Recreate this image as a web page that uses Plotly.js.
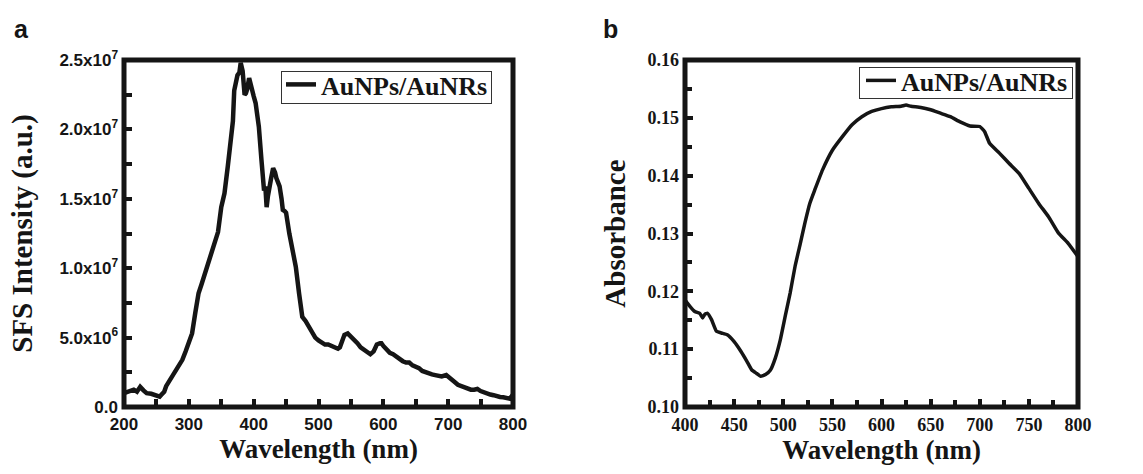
<!DOCTYPE html>
<html>
<head>
<meta charset="utf-8">
<script src="https://cdn.plot.ly/plotly-3.0.1.min.js"></script>
<style>
html,body{margin:0;padding:0;background:#fff;}
#wrap{position:relative;width:1143px;height:474px;}
#chart{width:1143px;height:474px;}
.lab{position:absolute;font-family:'Liberation Sans',Arial,sans-serif;font-weight:bold;font-size:25px;line-height:25px;color:#151515;}
.lbox{position:absolute;border:1px solid #333;box-sizing:border-box;pointer-events:none;}
</style>
</head>
<body>
<div id="wrap">
<div id="chart"></div>
<div class="lab" id="labA" style="left:14px;top:17px;"></div>
<div class="lab" id="labB" style="left:603px;top:17px;"></div>
<div class="lbox" style="left:281px;top:71px;width:211px;height:33px;"></div>
<div class="lbox" style="left:859px;top:67px;width:214px;height:32px;"></div>
</div>
<script>
// Panel a: SFS intensity
const sfsWavelength = [200,207,215,220,225,230,235,242,250,255,258,262,265,270,275,280,285,290,295,300,305,310,315,320,325,330,335,340,345,350,355,360,365,368,370,373,375,378,380,383,386,388,390,393,397,400,403,408,412,416,418,420,422,424,427,430,433,435,440,443,445,448,450,455,460,465,470,473,475,480,485,490,495,500,505,510,515,520,525,530,533,535,540,545,550,555,560,565,570,575,580,585,590,595,597,600,605,610,615,620,625,630,635,640,645,650,655,660,665,670,675,680,685,690,697,700,705,710,715,720,725,730,735,740,745,750,755,760,765,770,775,780,785,790,795,800];
const sfsIntensity = [1.0e6,1.15e6,1.25e6,1.1e6,1.45e6,1.2e6,1.0e6,0.95e6,0.8e6,0.75e6,0.9e6,1.1e6,1.5e6,1.9e6,2.3e6,2.7e6,3.0e6,3.4e6,4.0e6,4.6e6,5.3e6,6.8e6,8.2e6,8.9e6,9.6e6,10.4e6,11.0e6,11.8e6,12.6e6,14.4e6,15.4e6,17.3e6,19.2e6,20.6e6,22.8e6,23.6e6,23.9e6,24.1e6,24.8e6,24.2e6,22.5e6,22.6e6,22.9e6,23.7e6,23.1e6,22.4e6,21.9e6,20.2e6,17.8e6,15.6e6,15.9e6,14.4e6,15.2e6,15.9e6,16.5e6,17.2e6,16.9e6,16.5e6,15.9e6,15.0e6,14.2e6,14.1e6,14.0e6,12.5e6,11.3e6,10.1e6,8.2e6,6.9e6,6.5e6,6.2e6,5.8e6,5.3e6,5.0e6,4.8e6,4.6e6,4.5e6,4.5e6,4.4e6,4.3e6,4.2e6,4.3e6,4.6e6,5.2e6,5.3e6,5.1e6,4.9e6,4.6e6,4.3e6,4.1e6,4.0e6,3.8e6,4.0e6,4.5e6,4.6e6,4.6e6,4.4e6,4.1e6,3.9e6,3.8e6,3.6e6,3.5e6,3.3e6,3.2e6,3.2e6,3.0e6,2.9e6,2.8e6,2.6e6,2.5e6,2.4e6,2.35e6,2.3e6,2.25e6,2.2e6,2.3e6,2.2e6,2.0e6,1.8e6,1.6e6,1.5e6,1.4e6,1.3e6,1.25e6,1.25e6,1.3e6,1.15e6,1.05e6,1.0e6,0.9e6,0.85e6,0.75e6,0.72e6,0.7e6,0.65e6,0.6e6,0.9e6];
const sfsTickVals = [0,5e6,1e7,1.5e7,2e7,2.5e7];
const sfsTickText = ['0.0','5.0x10<sup>6</sup>','1.0x10<sup>7</sup>','1.5x10<sup>7</sup>','2.0x10<sup>7</sup>','2.5x10<sup>7</sup>'];

// Panel b: UV-vis absorbance
const absWavelength = [400,405,410,415,418,420,423,427,432,437,443,450,457,463,468,473,477,482,487,492,497,502,507,512,517,522,527,532,540,550,560,570,580,590,600,610,620,625,630,640,650,660,670,680,690,700,705,710,720,730,740,750,760,770,780,790,800];
const absValues = [0.1185,0.1174,0.1165,0.1162,0.1154,0.1160,0.1162,0.1151,0.1131,0.1128,0.1125,0.1113,0.1096,0.1079,0.1064,0.1058,0.1053,0.1056,0.1064,0.1085,0.1116,0.1157,0.1197,0.1243,0.1280,0.1318,0.1352,0.1375,0.1410,0.1444,0.1467,0.1488,0.1502,0.1511,0.1516,0.1519,0.1520,0.1522,0.1520,0.1518,0.1514,0.1508,0.1502,0.1493,0.1486,0.1485,0.1476,0.1456,0.1439,0.1421,0.1404,0.1378,0.1352,0.1329,0.1301,0.1283,0.1260];

const seriesName = 'AuNPs/AuNRs';
const panelLabels = ['a', 'b'];
document.getElementById('labA').textContent = panelLabels[0];
document.getElementById('labB').textContent = panelLabels[1];

const ink = '#151515';
const sans = 'Liberation Sans, Arial, sans-serif';
const serif = 'Liberation Serif, Times New Roman, serif';

const traces = [
  {x: sfsWavelength, y: sfsIntensity, type: 'scatter', mode: 'lines', name: seriesName,
   line: {color: ink, width: 4.5}, xaxis: 'x', yaxis: 'y', legend: 'legend'},
  {x: absWavelength, y: absValues, type: 'scatter', mode: 'lines', name: seriesName,
   line: {color: ink, width: 3.5, shape: 'spline', smoothing: 0.4}, xaxis: 'x2', yaxis: 'y2', legend: 'legend2'}
];

const frame = {showline: false, showgrid: false, zeroline: false,
  ticks: 'inside', ticklen: 8, tickwidth: 4, tickcolor: ink, ticklabelstandoff: 5};
const W = 1143, H = 474;
const px = v => v / W, py = v => 1 - v / H;
const yDom = [py(407), py(60)];
const frameBox = (xr, yr) => ({type: 'rect', xref: xr + ' domain', yref: yr + ' domain', x0: 0, x1: 1, y0: 0, y1: 1,
  line: {color: ink, width: 5}, fillcolor: 'rgba(0,0,0,0)', layer: 'above'});

const layout = {
  width: W, height: H, margin: {l: 0, r: 0, t: 0, b: 0},
  xaxis: Object.assign({}, frame, {domain: [px(124), px(513)], range: [200, 800], dtick: 100, tick0: 200,
    minor: {dtick: 50, tick0: 200, ticks: 'inside', ticklen: 8, tickwidth: 4, tickcolor: ink},
    tickfont: {family: sans, size: 17, color: ink, weight: 'bold'},
    title: {text: 'Wavelength (nm)', font: {family: serif, size: 27, color: ink, weight: 'bold'}, standoff: 4}, anchor: 'y'}),
  yaxis: Object.assign({}, frame, {domain: yDom, range: [0, 2.5e7], tickmode: 'array', tickvals: sfsTickVals, ticktext: sfsTickText,
    minor: {dtick: 2.5e6, tick0: 0, ticks: 'inside', ticklen: 8, tickwidth: 4, tickcolor: ink},
    tickfont: {family: sans, size: 17, color: ink, weight: 'bold'},
    title: {text: 'SFS Intensity (a.u.)', font: {family: serif, size: 29, color: ink, weight: 'bold'}, standoff: 18}, anchor: 'x'}),
  xaxis2: Object.assign({}, frame, {domain: [px(685), px(1078)], range: [400, 800], dtick: 50, tick0: 400,
    minor: {dtick: 25, tick0: 400, ticks: 'inside', ticklen: 7, tickwidth: 4, tickcolor: ink},
    tickfont: {family: serif, size: 18, color: ink, weight: 'bold'},
    title: {text: 'Wavelength (nm)', font: {family: serif, size: 27, color: ink, weight: 'bold'}, standoff: 4}, anchor: 'y2'}),
  yaxis2: Object.assign({}, frame, {domain: yDom, range: [0.10, 0.16], dtick: 0.01, tick0: 0.10, tickformat: '.2f',
    minor: {dtick: 0.005, tick0: 0.10, ticks: 'inside', ticklen: 7, tickwidth: 4, tickcolor: ink},
    tickfont: {family: serif, size: 18, color: ink, weight: 'bold'},
    title: {text: 'Absorbance', font: {family: serif, size: 29, color: ink, weight: 'bold'}, standoff: 13}, anchor: 'x2'}),
  legend: {x: px(281), y: py(61), xanchor: 'left', yanchor: 'top', bgcolor: 'rgba(0,0,0,0)', borderwidth: 0,
    font: {family: serif, size: 26, color: ink, weight: 'bold'}},
  legend2: {x: px(861), y: py(57), xanchor: 'left', yanchor: 'top', bgcolor: 'rgba(0,0,0,0)', borderwidth: 0,
    font: {family: serif, size: 26, color: ink, weight: 'bold'}},
  showlegend: true,
  shapes: [frameBox('x', 'y'), frameBox('x2', 'y2')]
};

Plotly.newPlot('chart', traces, layout, {displayModeBar: false, staticPlot: true});
</script>
</body>
</html>
